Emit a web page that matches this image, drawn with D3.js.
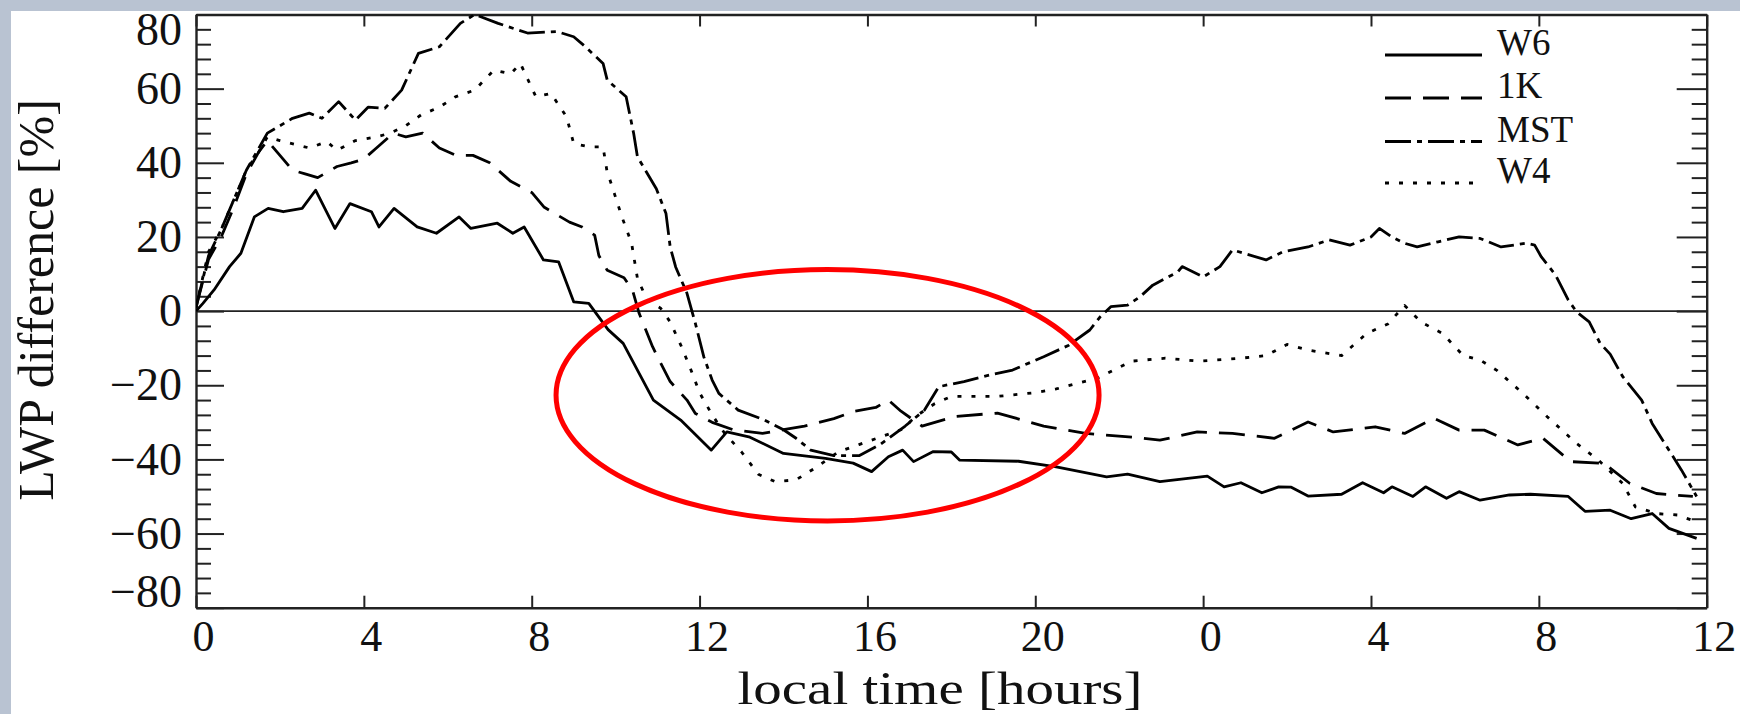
<!DOCTYPE html>
<html>
<head>
<meta charset="utf-8">
<script src="https://cdn.jsdelivr.net/npm/d3@7"></script>
<style>
  html, body { margin: 0; padding: 0; }
  body { width: 1740px; height: 714px; overflow: hidden; background: #b9c3d2; }
  svg { display: block; }
</style>
</head>
<body>
<div id="viz"></div>
<script>
// series: [local time in hours since start, LWP difference in %]
var seriesNames = ["W6", "1K", "MST", "W4"];

var w6 = [[0,0],[0.16,2],[0.43,5.7],[0.8,12],[1.07,15.6],[1.39,25.4],[1.72,27.7],[2.08,26.8],[2.53,27.7],[2.85,32.6],
  [3.31,22.3],[3.67,29],[4.18,26.8],[4.36,22.7],[4.72,27.7],[5.27,22.7],[5.73,21],[6.27,25.4],[6.55,22.3],[7.18,23.7],
  [7.55,21],[7.82,22.7],[8.28,13.8],[8.64,13.3],[9.0,2.5],[9.36,2.1],[9.82,-5],[10.18,-8.7],[10.9,-24],[11.55,-29.4],
  [12.28,-37.5],[12.65,-32.6],[13.2,-34],[14.0,-38.4],[15.0,-39.7],[15.66,-41],[16.1,-43.3],[16.5,-39.3],[16.84,-37.5],
  [17.1,-40.6],[17.57,-37.9],[18.0,-38],[18.2,-40.2],[19.6,-40.5],[20.5,-42],[21.7,-44.7],[22.2,-44],[22.97,-46],
  [24.1,-44.5],[24.5,-47.4],[24.9,-46.3],[25.4,-49],[25.8,-47.4],[26.1,-47.5],[26.5,-49.9],[27.3,-49.4],[27.8,-46.3],
  [28.3,-49],[28.5,-47.4],[29.0,-50],[29.3,-47.4],[29.8,-50.5],[30.1,-48.7],[30.6,-51],[31.3,-49.6],[31.8,-49.4],
  [32.7,-50],[33.1,-54],[33.7,-53.7],[34.2,-56],[34.7,-54.6],[35.1,-58.6],[35.76,-61.3]];

var k1 = [[0,1],[0.3,14],[0.6,20],[0.9,28],[1.2,37],[1.5,43],[1.7,46],[2.0,42],[2.3,38],[2.6,37],[2.9,36],[3.36,39],
  [3.7,40],[4.0,41],[4.3,44],[4.7,48],[5.0,47],[5.4,48],[5.8,44],[6.2,42],[6.6,42],[7.0,40],[7.5,35],[8.0,32],[8.3,28],
  [8.6,26],[8.9,24],[9.2,22.7],[9.5,20.5],[9.6,15],[9.8,11],[10.2,9],[10.4,5.7],[10.56,-0.6],[10.88,-9.6],[11.0,-12.4],
  [11.3,-19],[11.7,-24],[11.9,-27.6],[12.3,-30],[12.8,-32],[13.5,-33],[14.0,-32],[14.5,-31],[15.2,-29],[15.7,-27],
  [16.2,-26],[16.5,-24],[16.8,-27],[17.3,-31],[18.1,-28.4],[19.1,-27.5],[20.2,-31],[21.2,-33],[22.3,-34],[22.97,-34.8],
  [23.86,-32.6],[24.7,-33],[25.7,-34.3],[26.5,-29.9],[27.1,-32.6],[28.1,-31.2],[28.8,-33],[29.5,-28.9],[30.1,-32.1],
  [30.7,-32.1],[31.5,-36.1],[32.1,-34.3],[32.76,-40.6],[33.56,-41.1],[34.17,-46.5],[34.8,-49.2],[35.67,-50]];

var mst = [[0,1],[0.3,15],[0.6,22],[0.9,30],[1.2,38],[1.5,44],[1.7,48],[2.0,50],[2.3,52],[2.7,53.4],[3.0,52],
  [3.4,56.5],[3.8,51.5],[4.1,55],[4.5,54.7],[4.9,59.6],[5.3,69.5],[5.8,71.3],[6.3,77.6],[6.64,80],[7.2,77.6],[7.9,75],
  [8.6,75.4],[9.0,74],[9.28,71.3],[9.7,66.8],[9.8,62.3],[10.25,57.8],[10.43,47.9],[10.52,41.6],[10.97,33],[11.2,26.3],
  [11.3,17.3],[11.43,11.9],[11.7,4.8],[11.9,-3.3],[12.1,-12.3],[12.3,-18.6],[12.46,-22.2],[12.92,-26.7],[13.55,-29.4],
  [14.0,-32],[14.3,-34.3],[14.65,-37.5],[15.2,-39],[15.8,-39],[16.3,-36],[16.9,-31],[17.36,-26.7],[17.7,-20.4],
  [18.3,-19],[19.0,-17],[19.46,-15.9],[20.2,-12.3],[20.8,-9.2],[21.3,-5.1],[21.55,-1.5],[21.8,1.2],[22.2,1.6],
  [22.5,3.9],[22.8,7],[23.4,10.6],[23.5,12],[24.0,9.2],[24.4,12],[24.7,16.5],[25.5,13.8],[25.9,16],[26.5,17.3],
  [27.0,19.2],[27.5,17.8],[28.0,20],[28.2,22.3],[28.5,20],[28.8,18.3],[29.1,17.3],[29.6,18.7],[30.1,20],[30.6,19.6],
  [31.1,17.3],[31.7,18.3],[31.9,17.8],[32.06,14.6],[32.4,9.7],[32.7,3],[32.9,-0.2],[33.2,-2.9],[33.46,-8.7],
  [33.7,-11.6],[34.0,-17.7],[34.45,-24],[34.7,-30.3],[35.05,-36.6],[35.4,-42.9],[35.76,-50]];

var w4 = [[0,1],[0.3,16],[0.6,22],[0.9,30],[1.2,38],[1.5,43],[1.7,47],[2.0,46],[2.35,45],[2.7,44],[3.12,45.7],
  [3.36,43.4],[3.8,46],[4.3,47],[4.63,48],[5.0,50],[5.36,52.9],[5.8,55],[6.18,57.8],[6.64,59.6],[7.1,65],[7.5,64],
  [7.73,66.8],[8.1,57.8],[8.46,58.7],[8.83,52.4],[9.0,45.2],[9.37,44.3],[9.7,44.3],[9.79,38],[9.97,31.7],[10.15,25.4],
  [10.38,18.3],[10.52,8.8],[10.75,3],[11.07,0.8],[11.3,-2.9],[11.57,-9.6],[11.8,-16],[12.0,-22],[12.3,-28],[12.6,-33],
  [13.0,-38],[13.4,-44],[13.8,-46],[14.3,-45.5],[14.8,-42],[15.3,-38],[15.8,-36],[16.3,-34],[16.8,-32],[17.2,-28],
  [17.6,-25],[18.0,-23],[19.1,-23],[20.0,-22],[20.5,-21],[21.5,-18],[22.3,-13.5],[23.1,-12.7],[23.9,-13.5],[24.9,-12.7],
  [25.5,-12],[26,-9],[26.5,-10.5],[27.3,-12],[27.9,-6],[28.4,-3.5],[28.8,1.5],[29.2,-3],[29.7,-6],[30.2,-12],
  [30.6,-13.2],[31.0,-16],[31.6,-22],[32.2,-28.5],[32.9,-35.7],[33.4,-40],[34.0,-46.5],[34.3,-52.8],[34.8,-54.6],
  [35.3,-55],[35.8,-57]];

var xTicks = [0, 4, 8, 12, 16, 20, 24, 28, 32, 36];
var yTicks = [-80, -60, -40, -20, 0, 20, 40, 60, 80];
// highlighted region (centre hour, centre value, half width in hours, half height in %)
var ellipse = {h: 15.05, v: -22.7, rh: 6.47, rv: 33.9};

var width = 1740,
    height = 714;

var margin = {left: 196, right: 33.3, top: 14.5, bottom: 106.3};

var x = d3.scaleLinear().domain([0, 36]).range([margin.left, width - margin.right]);
var y = d3.scaleLinear().domain([-80, 80]).range([height - margin.bottom, margin.top]);

var serif = "Liberation Serif, Times New Roman, serif";

var svg = d3.select("#viz").append("svg")
    .attr("width", width)
    .attr("height", height);

// white slide area
svg.append("rect")
    .attr("x", 11).attr("y", 11)
    .attr("width", width - 11).attr("height", height - 11)
    .attr("fill", "#ffffff");

svg.append("clipPath").attr("id", "plotclip")
    .append("rect")
    .attr("x", x(0)).attr("y", y(80))
    .attr("width", x(36) - x(0)).attr("height", y(-80) - y(80));

// minor y ticks every 4 %
var minorY = d3.range(-80, 81, 4).filter(function(d) { return d % 20 != 0; });

var axisColor = "#222";

// left axis
svg.append("g")
    .attr("transform", "translate(" + x(0) + ",0)")
    .call(d3.axisLeft(y).tickValues(minorY).tickSize(-15).tickFormat(""))
    .call(function(g) { g.select(".domain").remove(); })
    .selectAll("line").attr("stroke", axisColor).attr("stroke-width", 2);

var leftAxis = svg.append("g")
    .attr("transform", "translate(" + x(0) + ",0)")
    .call(d3.axisLeft(y).tickValues(yTicks).tickSize(-28).tickPadding(14).tickSizeOuter(0));
leftAxis.select(".domain").attr("stroke", axisColor).attr("stroke-width", 2.4);
leftAxis.selectAll("line").attr("stroke", axisColor).attr("stroke-width", 2);
leftAxis.selectAll("text")
    .attr("font-family", serif)
    .attr("font-size", 46)
    .attr("fill", "#111")
    .attr("dy", function(d) { return d == 80 ? "0.65em" : (d == -80 ? "-0.02em" : "0.32em"); });

// right axis
svg.append("g")
    .attr("transform", "translate(" + x(36) + ",0)")
    .call(d3.axisRight(y).tickValues(minorY).tickSize(-15).tickFormat(""))
    .call(function(g) { g.select(".domain").remove(); })
    .selectAll("line").attr("stroke", axisColor).attr("stroke-width", 2);

var rightAxis = svg.append("g")
    .attr("transform", "translate(" + x(36) + ",0)")
    .call(d3.axisRight(y).tickValues(yTicks).tickSize(-30).tickFormat("").tickSizeOuter(0));
rightAxis.select(".domain").attr("stroke", axisColor).attr("stroke-width", 2.4);
rightAxis.selectAll("line").attr("stroke", axisColor).attr("stroke-width", 2);

// bottom axis
var bottomAxis = svg.append("g")
    .attr("transform", "translate(0," + y(-80) + ")")
    .call(d3.axisBottom(x).tickValues(xTicks).tickSize(-12).tickSizeOuter(0)
        .tickFormat(function(d) { return d % 24; }));
bottomAxis.select(".domain").attr("stroke", axisColor).attr("stroke-width", 2.4);
bottomAxis.selectAll("line").attr("stroke", axisColor).attr("stroke-width", 2);
bottomAxis.selectAll("text")
    .attr("font-family", serif)
    .attr("font-size", 44)
    .attr("fill", "#111")
    .attr("x", 7)
    .attr("y", 12)
    .attr("dy", "0.71em");

// top axis
var topAxis = svg.append("g")
    .attr("transform", "translate(0," + y(80) + ")")
    .call(d3.axisTop(x).tickValues(xTicks).tickSize(-12).tickFormat("").tickSizeOuter(0));
topAxis.select(".domain").attr("stroke", axisColor).attr("stroke-width", 2.4);
topAxis.selectAll("line").attr("stroke", axisColor).attr("stroke-width", 2);

// zero line
svg.append("line")
    .attr("x1", x(0)).attr("x2", x(36))
    .attr("y1", y(0)).attr("y2", y(0))
    .attr("stroke", axisColor)
    .attr("stroke-width", 1.8);

// axis titles
svg.append("text")
    .attr("transform", "translate(53,300) rotate(-90)")
    .attr("text-anchor", "middle")
    .attr("font-family", serif)
    .attr("font-size", 50)
    .attr("fill", "#111")
    .text("LWP difference [%]");

svg.append("text")
    .attr("x", 940)
    .attr("y", 703.5)
    .attr("text-anchor", "middle")
    .attr("font-family", serif)
    .attr("font-size", 47)
    .attr("textLength", 405)
    .attr("lengthAdjust", "spacingAndGlyphs")
    .attr("fill", "#111")
    .text("local time [hours]");

// data lines
var dashes = {"W6": null, "1K": "26,12", "MST": "26,6,5,6", "W4": "4,10"};
var allSeries = [w6, k1, mst, w4];

var line = d3.line()
    .x(function(d) { return x(d[0]); })
    .y(function(d) { return y(d[1]); });

svg.append("g")
    .attr("clip-path", "url(#plotclip)")
    .selectAll("path")
    .data(allSeries)
    .enter().append("path")
    .attr("d", line)
    .attr("fill", "none")
    .attr("stroke", "#000")
    .attr("stroke-width", 2.8)
    .attr("stroke-linejoin", "round")
    .attr("stroke-dasharray", function(d, i) { return dashes[seriesNames[i]]; });

// legend
var legend = svg.append("g").attr("class", "legend");
var legendY = [55, 98, 141.5, 183];

seriesNames.forEach(function(name, i) {
    legend.append("line")
        .attr("x1", 1385).attr("x2", 1482)
        .attr("y1", legendY[i]).attr("y2", legendY[i])
        .attr("stroke", "#000")
        .attr("stroke-width", 3)
        .attr("stroke-dasharray", dashes[name]);
    legend.append("text")
        .attr("x", 1497)
        .attr("y", legendY[i])
        .attr("font-family", serif)
        .attr("font-size", 37)
        .attr("fill", "#111")
        .text(name);
});

// red highlight ellipse
svg.append("ellipse")
    .attr("cx", x(ellipse.h))
    .attr("cy", y(ellipse.v))
    .attr("rx", x(ellipse.h + ellipse.rh) - x(ellipse.h))
    .attr("ry", y(ellipse.v - ellipse.rv) - y(ellipse.v))
    .attr("fill", "none")
    .attr("stroke", "#ff0000")
    .attr("stroke-width", 5);
</script>
</body>
</html>
